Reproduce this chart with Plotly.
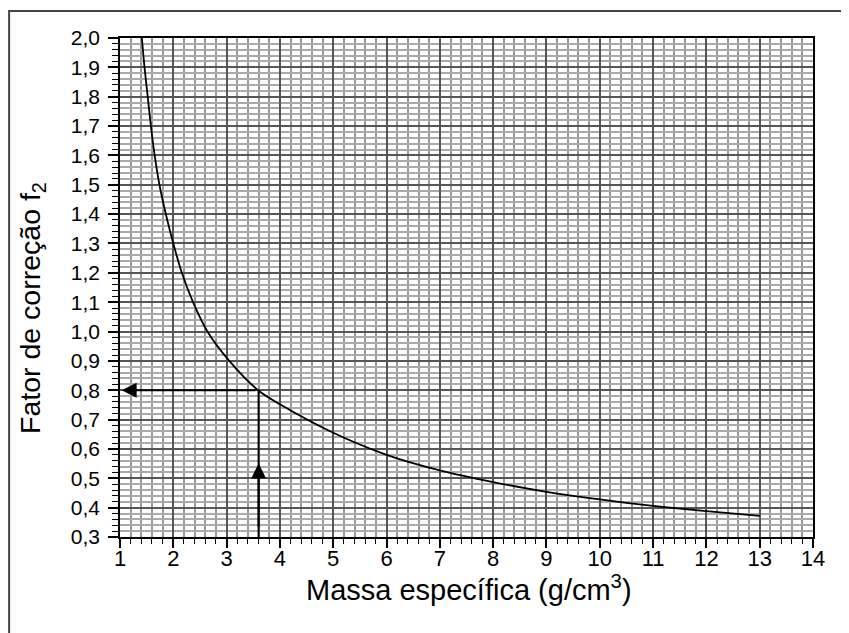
import plotly.graph_objects as go

# Curve: density (g/cm3) vs correction factor f2
massa = [1.41, 1.46, 1.52, 1.58, 1.65, 1.74, 1.86, 2.00, 2.16, 2.37, 2.64, 3.05, 3.59,
         4.0, 5.0, 6.0, 7.0, 8.0, 9.0, 10.0, 11.0, 12.0, 13.0]
fator = [2.00, 1.90, 1.80, 1.70, 1.60, 1.50, 1.40, 1.30, 1.20, 1.10, 1.00, 0.90, 0.80,
         0.752, 0.655, 0.580, 0.527, 0.487, 0.454, 0.428, 0.406, 0.388, 0.372]

# Read-off example (arrows)
leitura_x = 3.6
leitura_y = 0.8

x_ticks = list(range(1, 15))
y_ticks = [round(0.3 + 0.1 * i, 1) for i in range(18)]

FONT = "Liberation Sans, Arial, sans-serif"

fig = go.Figure()
fig.add_trace(go.Scatter(x=massa, y=fator, mode="lines",
                         line=dict(color="black", width=1.8, shape="spline", smoothing=0.8),
                         hoverinfo="skip", showlegend=False))

# vertical reading line from the x axis to the curve
fig.add_shape(type="line", x0=leitura_x, x1=leitura_x, y0=0.3, y1=leitura_y,
              line=dict(color="black", width=2), layer="above")
# up arrow head on the vertical line
fig.add_annotation(x=leitura_x, y=0.55, ax=leitura_x, ay=0.3, xref="x", yref="y", axref="x", ayref="y",
                   showarrow=True, arrowhead=2, arrowsize=1.5, arrowwidth=2, arrowcolor="black", text=" ")
# horizontal arrow from curve to the y axis
fig.add_annotation(x=1.03, y=leitura_y, ax=leitura_x, ay=leitura_y, xref="x", yref="y", axref="x", ayref="y",
                   showarrow=True, arrowhead=2, arrowsize=1.5, arrowwidth=2, arrowcolor="black", text=" ")

# outer frame
fig.add_shape(type="rect", xref="paper", yref="paper", x0=-0.160, x1=1.1, y0=-0.3, y1=1.054,
              line=dict(color="#444444", width=2), fillcolor="rgba(0,0,0,0)", layer="above")

# axis titles as annotations
fig.add_annotation(xref="paper", yref="paper", x=0.503, y=-0.102, yanchor="middle", xanchor="center",
                   text="Massa específica (g/cm<sup>3</sup>)", showarrow=False,
                   font=dict(family=FONT, size=29, color="black"))
fig.add_annotation(xref="paper", yref="paper", x=-0.127, y=0.459, yanchor="middle", xanchor="center",
                   textangle=-90, text="Fator de correção f<sub>2</sub>", showarrow=False,
                   font=dict(family=FONT, size=28.5, color="black"))

fig.update_xaxes(range=[1, 14], tickvals=x_ticks, ticktext=[str(v) for v in x_ticks],
                 showgrid=True, gridcolor="#555555", gridwidth=2,
                 ticks="outside", ticklen=9, tickwidth=1.5, tickcolor="black",
                 showline=True, linecolor="black", linewidth=1.5, mirror=True,
                 ticklabelstandoff=-8,
                 minor=dict(dtick=0.2, showgrid=True, gridcolor="#999999", gridwidth=1.5,
                            ticks="outside", ticklen=5, tickwidth=1.2, tickcolor="black"),
                 tickfont=dict(family=FONT, size=22, color="black"), zeroline=False)
fig.update_yaxes(range=[0.3, 2.0], tickvals=y_ticks, tickformat=".1f",
                 showgrid=True, gridcolor="#555555", gridwidth=1.5,
                 ticks="outside", ticklen=10, tickwidth=1.5, tickcolor="black",
                 showline=True, linecolor="black", linewidth=1.5, mirror=True,
                 ticklabelstandoff=4,
                 minor=dict(dtick=0.02, tick0=0.3, showgrid=True, gridcolor="#aaaaaa", gridwidth=1.5,
                            ticks="outside", ticklen=6, tickwidth=1.2, tickcolor="black"),
                 tickfont=dict(family=FONT, size=21, color="black"), zeroline=False)

fig.update_layout(width=841, height=625, separators=",.",
                  margin=dict(l=112, r=36, t=30, b=96),
                  paper_bgcolor="white", plot_bgcolor="white", showlegend=False)

fig.write_html("out.html")
